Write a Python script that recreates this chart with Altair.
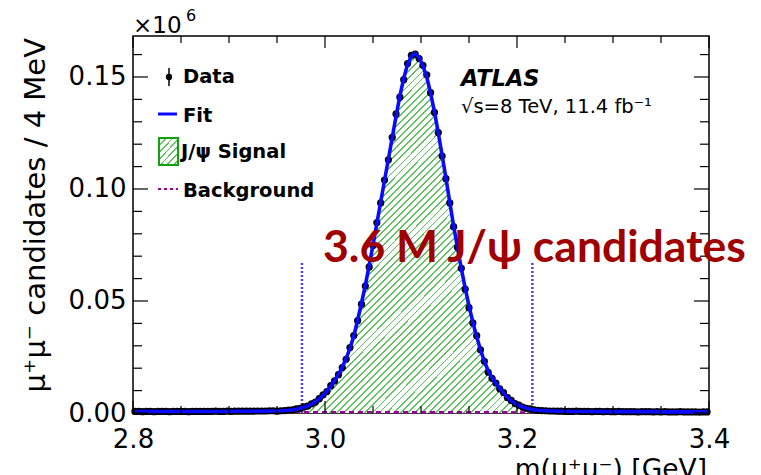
import altair as alt
import pandas as pd

# ---------------- data (units of 10^6 candidates / 4 MeV) ----------------
BIN_START = 2.802
BIN_WIDTH = 0.004
N_BINS = 150
mass = [round(BIN_START + BIN_WIDTH * i, 3) for i in range(N_BINS)]

data_left = [0.0007, 0.0007, 0.0006, 0.0007, 0.0007, 0.0006, 0.0007, 0.0007, 0.0007, 0.0006,
             0.0007, 0.0007, 0.0007, 0.0007, 0.0006, 0.0007, 0.0007, 0.0007, 0.0007, 0.0007,
             0.0007, 0.0008, 0.0007, 0.0007, 0.0008, 0.0007, 0.0008, 0.0008, 0.0008, 0.0008,
             0.0008, 0.0008, 0.0009, 0.0009, 0.0009, 0.0010, 0.0010]
data_peak = [0.0008, 0.0010, 0.0011, 0.0013, 0.0014, 0.0018, 0.0021, 0.0027, 0.0031, 0.0041,
             0.0049, 0.0064, 0.0081, 0.0096, 0.0122, 0.0143, 0.0171, 0.0203, 0.0240, 0.0292,
             0.0346, 0.0412, 0.0486, 0.0567, 0.0652, 0.0748, 0.0850, 0.0938, 0.1040, 0.1130,
             0.1230, 0.1335, 0.1410, 0.1488, 0.1560, 0.1597, 0.1602, 0.1582, 0.1552, 0.1510,
             0.1430, 0.1342, 0.1252, 0.1147, 0.1046, 0.0938, 0.0832, 0.0740, 0.0646, 0.0553,
             0.0470, 0.0402, 0.0345, 0.0282, 0.0231, 0.0182, 0.0155, 0.0134, 0.0108, 0.0091,
             0.0069, 0.0056, 0.0042, 0.0035, 0.0026, 0.0021, 0.0018, 0.0014, 0.0012, 0.0011,
             0.0010, 0.0009, 0.0009, 0.0008, 0.0008, 0.0007]
data_right = [0.0007, 0.0007, 0.0008, 0.0007, 0.0007, 0.0007, 0.0006, 0.0007, 0.0007, 0.0006,
              0.0007, 0.0006, 0.0006, 0.0007, 0.0006, 0.0006, 0.0006, 0.0006, 0.0005, 0.0006,
              0.0006, 0.0006, 0.0005, 0.0006, 0.0005, 0.0006, 0.0005, 0.0005, 0.0005, 0.0006,
              0.0005, 0.0005, 0.0005, 0.0005, 0.0004, 0.0005, 0.0005]
data_vals = data_left + data_peak + data_right

fit_left = [0.0007, 0.0007, 0.0007, 0.0007, 0.0007, 0.0007, 0.0007, 0.0007, 0.0007, 0.0007,
            0.0007, 0.0007, 0.0007, 0.0007, 0.0007, 0.0007, 0.0007, 0.0007, 0.0007, 0.0007,
            0.0007, 0.0007, 0.0007, 0.0007, 0.0007, 0.0008, 0.0008, 0.0008, 0.0008, 0.0008,
            0.0008, 0.0008, 0.0008, 0.0008, 0.0008, 0.0009, 0.0009]
fit_peak = [0.0009, 0.0010, 0.0011, 0.0012, 0.0014, 0.0017, 0.0021, 0.0026, 0.0032, 0.0040,
            0.0050, 0.0063, 0.0079, 0.0098, 0.0120, 0.0145, 0.0173, 0.0205, 0.0243, 0.0289,
            0.0343, 0.0415, 0.0490, 0.0570, 0.0658, 0.0750, 0.0846, 0.0942, 0.1038, 0.1133,
            0.1228, 0.1325, 0.1416, 0.1494, 0.1556, 0.1594, 0.1605, 0.1588, 0.1550, 0.1500,
            0.1428, 0.1345, 0.1250, 0.1150, 0.1048, 0.0940, 0.0835, 0.0738, 0.0645, 0.0558,
            0.0478, 0.0405, 0.0340, 0.0282, 0.0231, 0.0188, 0.0158, 0.0132, 0.0110, 0.0090,
            0.0070, 0.0055, 0.0043, 0.0034, 0.0027, 0.0021, 0.0017, 0.0014, 0.0012, 0.0011,
            0.0010, 0.0009, 0.0009, 0.0008, 0.0008, 0.0008]
fit_right = [0.0007, 0.0007, 0.0007, 0.0007, 0.0007, 0.0007, 0.0007, 0.0007, 0.0006, 0.0006,
             0.0006, 0.0006, 0.0006, 0.0006, 0.0006, 0.0006, 0.0006, 0.0006, 0.0006, 0.0006,
             0.0006, 0.0006, 0.0006, 0.0006, 0.0005, 0.0005, 0.0005, 0.0005, 0.0005, 0.0005,
             0.0005, 0.0005, 0.0005, 0.0005, 0.0005, 0.0005, 0.0005]
fit_vals = fit_left + fit_peak + fit_right

bkg_mass = [2.8, 3.0, 3.2, 3.4]
bkg_vals = [0.0004, 0.0004, 0.0003, 0.0003]

window_mass = [2.976, 3.216]
window_height = [0.0675, 0.0675]

x_major = [2.8, 3.0, 3.2, 3.4]
x_minor = [2.85, 2.9, 2.95, 3.05, 3.1, 3.15, 3.25, 3.3, 3.35]
y_major = [0.0, 0.05, 0.10, 0.15]
y_minor = [0.01, 0.02, 0.03, 0.04, 0.06, 0.07, 0.08, 0.09, 0.11, 0.12, 0.13, 0.14, 0.16]

# ---------------- layout ----------------
W, H = 576, 377
ROOT_FONT = "DejaVu Sans"

df = pd.DataFrame({"m": mass, "data": data_vals, "fit": fit_vals})
sig = df[(df["m"] >= 2.9495) & (df["m"] <= 3.2505)]

xs = alt.Scale(domain=[2.8, 3.4], nice=False, zero=False)
ys = alt.Scale(domain=[0, 0.1683], nice=False, zero=False)
x_axis = alt.Axis(values=x_major, format=".1f", ticks=False, tickSize=0, domain=False, grid=False,
                  labelFont=ROOT_FONT, labelFontSize=26, labelColor="black", labelPadding=13,
                  labelFlush=False, labelOverlap=False, title=None)
y_axis = alt.Axis(values=y_major, format=".2f", ticks=False, tickSize=0, domain=False, grid=False,
                  labelFont=ROOT_FONT, labelFontSize=26, labelColor="black", labelPadding=7,
                  labelOverlap=False, title=None)


def stripes(n, frac, color):
    stops = []
    for k in range(n):
        a = round(k / n, 5)
        b = round((k + frac) / n, 5)
        c = round(min(1.0, (k + 1) / n), 5)
        stops += [{"offset": a, "color": color}, {"offset": b, "color": color},
                  {"offset": b, "color": "white"}, {"offset": c, "color": "white"}]
    return stops


HATCH = "#5cc25c"
hatch_big = {"gradient": "linear", "x1": 0, "y1": 0, "x2": 0.925, "y2": 1.15,
             "stops": stripes(96, 0.26, HATCH)}
hatch_small = {"gradient": "linear", "x1": 0, "y1": 0, "x2": 0.85, "y2": 1.15,
               "stops": stripes(7, 0.26, HATCH)}

signal = alt.Chart(sig).mark_area(fill=hatch_big, stroke=None).encode(
    x=alt.X("m:Q", scale=xs, axis=x_axis),
    y=alt.Y("fit:Q", scale=ys, axis=y_axis),
)

win_df = pd.DataFrame({"m": window_mass, "h": window_height, "z": [0, 0]})
windows = alt.Chart(win_df).mark_rule(color="#4a4ac4", strokeDash=[2, 2], strokeWidth=2.5).encode(
    x=alt.X("m:Q", scale=xs, axis=x_axis),
    y=alt.Y("z:Q", scale=ys, axis=y_axis),
    y2="h:Q",
)

bkg = alt.Chart(pd.DataFrame({"m": bkg_mass, "b": bkg_vals})).mark_line(
    color="#990099", strokeDash=[5, 4], strokeWidth=2.4).encode(
    x=alt.X("m:Q", scale=xs, axis=x_axis),
    y=alt.Y("b:Q", scale=ys, axis=y_axis),
)

points = alt.Chart(df).mark_circle(size=52, color="black", opacity=1).encode(
    x=alt.X("m:Q", scale=xs, axis=x_axis),
    y=alt.Y("data:Q", scale=ys, axis=y_axis),
)

fit = alt.Chart(df).mark_line(color="#0a0aff", strokeWidth=3.6).encode(
    x=alt.X("m:Q", scale=xs, axis=x_axis),
    y=alt.Y("fit:Q", scale=ys, axis=y_axis),
)


def xticks(vals, y0, y1):
    return alt.Chart(pd.DataFrame({"v": vals})).mark_rule(color="black", strokeWidth=1.2).encode(
        x=alt.X("v:Q", scale=xs, axis=x_axis), y=alt.value(y0), y2=alt.value(y1))


def yticks(vals, x0, x1):
    return alt.Chart(pd.DataFrame({"v": vals})).mark_rule(color="black", strokeWidth=1.2).encode(
        y=alt.Y("v:Q", scale=ys, axis=y_axis), x=alt.value(x0), x2=alt.value(x1))


ticks = [
    xticks(x_major, H, H - 12), xticks(x_minor, H, H - 7),
    xticks(x_major, 0, 12), xticks(x_minor, 0, 7),
    yticks(y_major, 0, 15), yticks(y_minor, 0, 9),
    yticks(y_major, W, W - 15), yticks(y_minor, W, W - 9),
]


def label(text, x, y, size, font=ROOT_FONT, weight="normal", style="normal", color="black",
          align="left", angle=0):
    return alt.Chart(pd.DataFrame({"t": [text]})).mark_text(
        font=font, fontSize=size, fontWeight=weight, fontStyle=style, color=color,
        align=align, baseline="alphabetic", angle=angle).encode(
        x=alt.value(x), y=alt.value(y), text="t:N")


texts = [
    label("×10", 0, -3, 23),
    label("6", 53, -15, 16),
    label("ATLAS", 328, 50, 22.5, weight="bold", style="italic"),
    label("√s=8 TeV, 11.4 fb⁻¹", 328, 77, 19.5),
    label("3.6 M J/ψ candidates", 190, 226, 44.5, font="Lato", weight="bold", color="#a00000"),
    label("m(μ⁺μ⁻) [GeV]", 574, 442, 26.5, align="right"),
    label("μ⁺μ⁻ candidates / 4 MeV", -88, 2, 29, align="right", angle=270),
    # legend texts
    label("Data", 50, 47, 19.5, weight="bold"),
    label("Fit", 50, 86, 19.5, weight="bold"),
    label("J/ψ Signal", 48, 122, 19.5, weight="bold"),
    label("Background", 50, 161, 19.5, weight="bold"),
]

one = pd.DataFrame({"k": [0]})
legend = [
    alt.Chart(one).mark_rule(color="black", strokeWidth=1.5).encode(
        x=alt.value(36), y=alt.value(32), y2=alt.value(50)),
    alt.Chart(one).mark_circle(size=40, color="black", opacity=1).encode(
        x=alt.value(36), y=alt.value(41)),
    alt.Chart(one).mark_rule(color="#0a0aff", strokeWidth=3).encode(
        x=alt.value(25), x2=alt.value(44), y=alt.value(78)),
    alt.Chart(one).mark_rect(fill=hatch_small, stroke="#10a010", strokeWidth=2).encode(
        x=alt.value(26), x2=alt.value(45), y=alt.value(102), y2=alt.value(129)),
    alt.Chart(one).mark_rule(color="#990099", strokeDash=[3, 3], strokeWidth=2).encode(
        x=alt.value(25), x2=alt.value(45), y=alt.value(153)),
]

chart = alt.layer(signal, windows, bkg, points, fit, *ticks, *legend, *texts).properties(
    width=W, height=H,
    autosize=alt.AutoSizeParams(type="none"),
    padding={"left": 133, "top": 36, "right": 52, "bottom": 62},
    background="white",
).configure_view(stroke="black", strokeWidth=1.5)

chart.save("out.html", embed_options={"renderer": "svg", "actions": False})
